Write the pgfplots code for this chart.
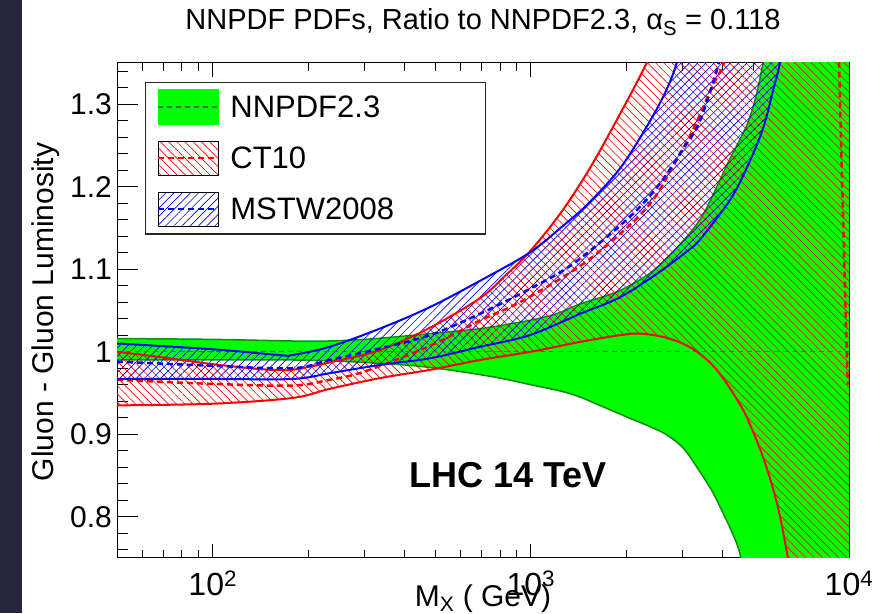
\documentclass[border=0pt]{standalone}
\usepackage{fontspec}
\setmainfont{Liberation Sans}
\usepackage{pgfplots}
\pgfplotsset{compat=1.18}
\usetikzlibrary{patterns.meta}
\definecolor{nngreen}{RGB}{0,255,0}
\definecolor{nnedge}{RGB}{20,140,20}
\definecolor{nncen}{RGB}{70,115,70}
\definecolor{slide}{RGB}{38,38,62}
\tikzset{
  cthatch/.style={pattern={Lines[angle=-45,distance=5.8pt,line width=0.65pt]}, pattern color=red},
  mshatch/.style={pattern={Lines[angle=45,distance=5.8pt,line width=0.65pt]}, pattern color=blue},
}
\begin{document}
\begin{tikzpicture}
\path[use as bounding box] (0,0) rectangle (880pt,613pt);
\fill[slide] (0,0) rectangle (22pt,613pt);
\begin{axis}[
  at={(117pt,55pt)}, anchor=south west,
  scale only axis, width=732pt, height=495pt,
  xmode=log, xmin=50, xmax=10000,
  ymin=0.75, ymax=1.35,
  xtick={100,1000,10000},
  xticklabels={10\textsuperscript{2},10\textsuperscript{3},10\textsuperscript{4}},
  minor xtick={60,70,80,90,200,300,400,500,600,700,800,900,2000,3000,4000,5000,6000,7000,8000,9000},
  ytick={0.8,0.9,1,1.1,1.2,1.3},
  yticklabels={0.8,0.9,1,1.1,1.2,1.3},
  minor ytick={0.76,0.78,0.82,0.84,0.86,0.88,0.92,0.94,0.96,0.98,1.02,1.04,1.06,1.08,1.12,1.14,1.16,1.18,1.22,1.24,1.26,1.28,1.32,1.34},
  tick align=inside,
  xtick pos=both, xticklabel pos=lower,
  ytick pos=left,
  major tick length=16pt, minor tick length=9pt,
  major x tick style={/pgfplots/major tick length=14pt},
  minor x tick style={/pgfplots/minor tick length=8pt},
  major y tick style={/pgfplots/major tick length=21pt},
  minor y tick style={/pgfplots/minor tick length=11pt},
  tick style={black, line width=1pt},
  axis line style={line width=1pt},
  xticklabel style={font=\fontsize{32}{38}\selectfont, inner sep=0pt, yshift=-13pt},
  yticklabel style={font=\fontsize{30}{36}\selectfont, inner sep=0pt, xshift=-5pt},
  legend style={at={(0.038,0.962)}, anchor=north west, draw=black!85, line width=1.2pt,
    fill=white, inner xsep=12pt, inner ysep=7pt, row sep=16pt, column sep=11pt,
    font=\fontsize{31}{37}\selectfont, nodes={inner sep=0pt}},
  legend cell align=left,
  edge/.style={smooth, tension=0.55, forget plot},
]
\addlegendimage{legend image code/.code={%
  \fill[nngreen] (0pt,-17pt) rectangle (60pt,17pt);
  \draw[nncen, line width=1.5pt, dash pattern=on 5pt off 4pt] (0pt,0pt) -- (60pt,0pt);}}
\addlegendentry{\makebox[243pt][l]{NNPDF2.3}}
\addlegendimage{legend image code/.code={%
  \fill[cthatch] (0pt,-17pt) rectangle (60pt,17pt);
  \draw[red, line width=2pt, dash pattern=on 6pt off 4pt] (0pt,0pt) -- (60pt,0pt);}}
\addlegendentry{\makebox[243pt][l]{CT10}}
\addlegendimage{legend image code/.code={%
  \fill[mshatch] (0pt,-17pt) rectangle (60pt,17pt);
  \draw[blue, line width=2pt, dash pattern=on 6pt off 4pt] (0pt,0pt) -- (60pt,0pt);}}
\addlegendentry{\makebox[243pt][l]{MSTW2008}}

% NNPDF2.3 band (lower edge, then upper edge backwards)
\addplot[fill=nngreen, draw=none, forget plot] coordinates {
  (50,0.990) (100,0.990) (180,0.990) (230,0.989) (300,0.987) (430,0.983) (600,0.976)
  (800,0.968) (1000,0.960) (1250,0.952) (1430,0.945) (1600,0.937) (2000,0.921)
  (2600,0.902) (3000,0.884) (3300,0.862) (3700,0.832) (4000,0.806) (4300,0.780)
  (4540,0.755) (4800,0.70) (10000,0.70)
  (10000,1.40) (5600,1.40) (5370,1.351) (5100,1.310) (4778,1.275) (4200,1.232)
  (3734,1.190) (3400,1.160) (2940,1.130) (2400,1.097) (1900,1.074) (1430,1.058)
  (1200,1.046) (990,1.038) (692,1.028) (481,1.022) (400,1.019) (300,1.015)
  (230,1.013) (180,1.013) (100,1.015) (50,1.016)
} -- cycle;
\addplot[edge, nnedge, line width=1.5pt] coordinates {
  (50,1.016) (100,1.015) (180,1.013) (230,1.013) (300,1.015) (400,1.019) (481,1.022)
  (692,1.028) (990,1.038) (1200,1.046) (1430,1.058) (1900,1.074) (2400,1.097)
  (2940,1.130) (3400,1.160) (3734,1.190) (4200,1.232) (4778,1.275) (5100,1.310)
  (5370,1.351) (5600,1.40)
};
\addplot[edge, nnedge, line width=1.5pt] coordinates {
  (50,0.990) (100,0.990) (180,0.990) (230,0.989) (300,0.987) (430,0.983) (600,0.976)
  (800,0.968) (1000,0.960) (1250,0.952) (1430,0.945) (1600,0.937) (2000,0.921)
  (2600,0.902) (3000,0.884) (3300,0.862) (3700,0.832) (4000,0.806) (4300,0.780)
  (4540,0.755) (4800,0.70)
};

% CT10 band
\addplot[cthatch, draw=none, forget plot] coordinates {
  (50,0.935) (100,0.937) (178,0.944) (233,0.955) (335,0.968) (481,0.978) (692,0.990)
  (1000,1.000) (1430,1.012) (1900,1.020) (2200,1.022) (2600,1.018) (3000,1.010)
  (3327,1.000) (3700,0.985) (4016,0.968) (4400,0.945) (4778,0.920) (5370,0.872)
  (5940,0.816) (6390,0.755) (6700,0.70) (10000,0.70)
  (10000,1.40) (2600,1.40) (2317,1.351) (1905,1.288) (1530,1.222) (1240,1.168)
  (990,1.121) (830,1.092) (692,1.065) (481,1.029) (335,1.002) (233,0.987) (178,0.978)
  (162,0.978) (140,0.979) (100,0.985) (70,0.993) (50,1.000)
} -- cycle;

% MSTW2008 band
\addplot[mshatch, draw=none, forget plot] coordinates {
  (50,0.967) (100,0.967) (178,0.967) (233,0.974) (335,0.984) (481,0.992) (692,1.006)
  (990,1.020) (1430,1.046) (1905,1.066) (2500,1.095) (3100,1.122) (3400,1.136)
  (4227,1.184) (4800,1.225) (5370,1.271) (5800,1.320) (6070,1.351) (6300,1.40)
  (3100,1.40) (2880,1.351) (2650,1.315) (2330,1.275) (1905,1.222) (1500,1.178)
  (1256,1.152) (990,1.120) (692,1.086) (481,1.054) (335,1.028) (233,1.006) (178,0.996)
  (162,0.996) (100,1.003) (50,1.010)
} -- cycle;

% central values and band edges
\addplot[nncen, line width=1.5pt, dash pattern=on 5pt off 4pt, forget plot] coordinates {
  (50,1) (10000,1)
};
\addplot[edge, red, line width=2pt] coordinates {
  (50,1.000) (70,0.993) (100,0.985) (140,0.979) (162,0.978) (178,0.978) (233,0.987)
  (335,1.002) (481,1.029) (692,1.065) (830,1.092) (990,1.121) (1240,1.168) (1530,1.222)
  (1905,1.288) (2317,1.351) (2600,1.40)
};
\addplot[edge, red, line width=2pt] coordinates {
  (50,0.935) (100,0.937) (178,0.944) (233,0.955) (335,0.968) (481,0.978) (692,0.990)
  (1000,1.000) (1430,1.012) (1900,1.020) (2200,1.022) (2600,1.018) (3000,1.010)
  (3327,1.000) (3700,0.985) (4016,0.968) (4400,0.945) (4778,0.920) (5370,0.872)
  (5940,0.816) (6390,0.755) (6700,0.70)
};
\addplot[edge, red, line width=2.5pt, dash pattern=on 6pt off 4pt] coordinates {
  (50,0.966) (100,0.961) (178,0.959) (233,0.966) (300,0.976) (481,1.007) (692,1.038)
  (923,1.060) (1430,1.104) (2000,1.150) (2420,1.184) (2800,1.225) (3240,1.270)
  (3700,1.320) (4050,1.351) (4300,1.40)
};
\addplot[edge, red, line width=2.5pt, dash pattern=on 6pt off 4pt] coordinates {
  (9250,1.40) (9303,1.35) (9600,1.15) (9856,0.99) (9930,0.96)
};
\addplot[edge, blue, line width=2pt] coordinates {
  (50,1.010) (100,1.003) (162,0.996) (178,0.996) (233,1.006) (335,1.028) (481,1.054)
  (692,1.086) (990,1.120) (1256,1.152) (1500,1.178) (1905,1.222) (2330,1.275)
  (2650,1.315) (2880,1.351) (3100,1.40)
};
\addplot[edge, blue, line width=2pt] coordinates {
  (50,0.967) (100,0.967) (178,0.967) (233,0.974) (335,0.984) (481,0.992) (692,1.006)
  (990,1.020) (1430,1.046) (1905,1.066) (2500,1.095) (3100,1.122) (3400,1.136)
  (4227,1.184) (4800,1.225) (5370,1.271) (5800,1.320) (6070,1.351) (6300,1.40)
};
\addplot[edge, blue, line width=2.5pt, dash pattern=on 6pt off 4pt] coordinates {
  (50,0.988) (100,0.983) (178,0.980) (233,0.990) (335,1.004) (481,1.020) (692,1.046)
  (990,1.076) (1350,1.106) (2000,1.160) (2500,1.200) (3000,1.245) (3400,1.280)
  (3900,1.351) (4100,1.40)
};
\end{axis}
\node[anchor=base, font=\fontsize{29}{35}\selectfont] at (483pt,583pt)
  {NNPDF PDFs, Ratio to NNPDF2.3, α\textsubscript{S} = 0.118};
\node[anchor=base, rotate=90, font=\fontsize{30}{36}\selectfont] at (53pt,301pt)
  {Gluon - Gluon Luminosity};
\node[anchor=base, font=\fontsize{30}{36}\selectfont] at (483pt,7pt)
  {M\textsubscript{X} ( GeV)};
\node[anchor=base, font=\bfseries\fontsize{36}{42}\selectfont] at (508pt,125pt)
  {LHC 14 TeV};
\end{tikzpicture}
\end{document}
